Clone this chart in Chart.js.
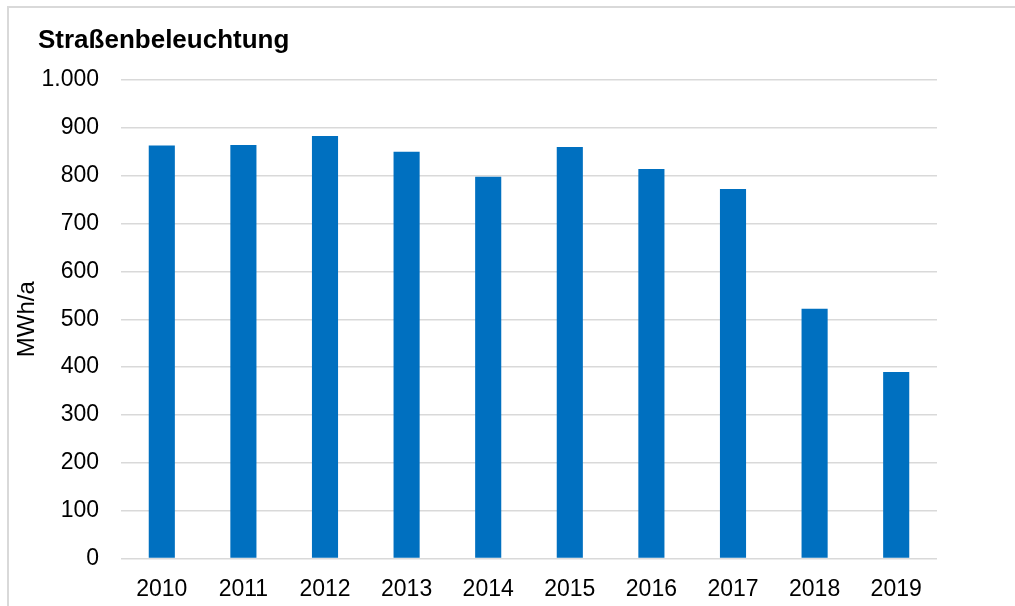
<!DOCTYPE html>
<html>
<head>
<meta charset="utf-8">
<script src="https://cdn.jsdelivr.net/npm/chart.js@4/dist/chart.umd.min.js"></script>
<style>
  html, body { margin: 0; padding: 0; background: #fff; }
  #wrap { position: relative; width: 1015px; height: 606px; overflow: hidden; }
  #frame { position: absolute; left: 7px; top: 6px; width: 1020px; height: 620px; border: 2px solid #d9d9d9; box-sizing: border-box; }
  canvas { position: absolute; left: 0; top: 0; }
</style>
</head>
<body>
<div id="wrap">
  <div id="frame"></div>
  <canvas id="chart" width="1015" height="606"></canvas>
</div>
<script>
const years = ['2010', '2011', '2012', '2013', '2014', '2015', '2016', '2017', '2018', '2019'];
const consumption = [863, 864, 883, 850, 798, 860, 814, 772, 522, 390];
const chartTitle = 'Straßenbeleuchtung';
const unitLabel = 'MWh/a';

const font = 'Liberation Sans, Arial, sans-serif';

// title drawn at a fixed spot, top left, like the original
const titlePlugin = {
    id: 'fixedTitle',
    afterDraw(chart) {
        const ctx = chart.ctx;
        ctx.save();
        ctx.font = `bold 26px ${font}`;
        ctx.fillStyle = '#000';
        ctx.textBaseline = 'alphabetic';
        ctx.fillText(chartTitle, 38, 48);
        ctx.restore();
    }
};

const ctx = document.getElementById('chart').getContext('2d');
new Chart(ctx, {
    type: 'bar',
    data: {
        labels: years,
        datasets: [{
            label: unitLabel,
            data: consumption,
            backgroundColor: '#0070c0',
            borderWidth: 0,
            categoryPercentage: 1,
            barPercentage: 0.32
        }]
    },
    options: {
        responsive: false,
        animation: false,
        layout: {
            padding: { top: 80, right: 78, bottom: 0, left: 13 }
        },
        plugins: {
            legend: { display: false },
            tooltip: { enabled: false }
        },
        scales: {
            x: {
                grid: { display: false },
                border: { display: false },
                ticks: {
                    color: '#000',
                    padding: 9,
                    font: { family: font, size: 23 }
                },
                afterFit(scale) { scale.height = 47.5; }
            },
            y: {
                min: 0,
                max: 1000,
                grid: { color: '#d9d9d9', lineWidth: 1.5, drawTicks: false },
                border: { display: false },
                ticks: {
                    stepSize: 100,
                    color: '#000',
                    padding: 22,
                    font: { family: font, size: 23 },
                    callback: v => v.toLocaleString('de-DE')
                },
                title: {
                    display: true,
                    text: unitLabel,
                    color: '#000',
                    padding: 0,
                    font: { family: font, size: 24 }
                },
                afterFit(scale) { scale.width = 108; }
            }
        }
    },
    plugins: [titlePlugin]
});
</script>
</body>
</html>
